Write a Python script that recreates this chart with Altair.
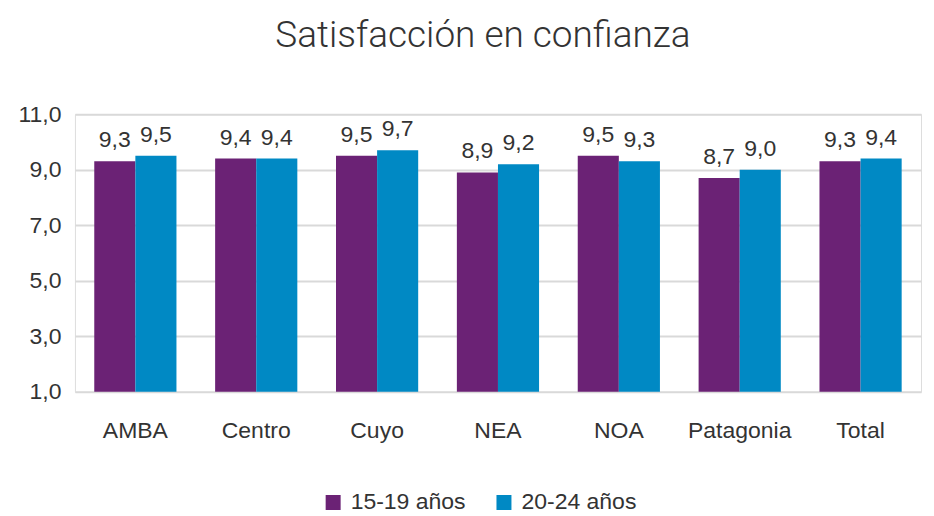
import altair as alt
import pandas as pd

regions = ["AMBA", "Centro", "Cuyo", "NEA", "NOA", "Patagonia", "Total"]
series = ["15-19 años", "20-24 años"]
v1519 = [9.3, 9.4, 9.5, 8.9, 9.5, 8.7, 9.3]
v2024 = [9.5, 9.4, 9.7, 9.2, 9.3, 9.0, 9.4]
colors = ["#6B2275", "#0089C4"]

rows = []
for i, r in enumerate(regions):
    rows.append({"region": r, "serie": series[0], "valor": v1519[i]})
    rows.append({"region": r, "serie": series[1], "valor": v2024[i]})
df = pd.DataFrame(rows)

FONT = "Liberation Sans"
FS = 23

base = alt.Chart(df).encode(
    x=alt.X("region:N", sort=regions, title=None,
            scale=alt.Scale(paddingInner=0.32, paddingOuter=0.16),
            axis=alt.Axis(labelAngle=0, labelFontSize=FS, labelFont=FONT, labelColor="#333333",
                          labelPadding=28, ticks=False, domain=False)),
    xOffset=alt.XOffset("serie:N", sort=series, scale=alt.Scale(paddingInner=0, paddingOuter=0)),
)

bars = base.mark_bar().encode(
    y=alt.Y("valor:Q", title=None,
            scale=alt.Scale(domain=[1, 11], zero=False, nice=False),
            axis=alt.Axis(values=[1, 3, 5, 7, 9, 11],
                          labelExpr="replace(format(datum.value, '.1f'), '.', ',')",
                          labelFontSize=FS, labelFont=FONT, labelColor="#333333",
                          labelPadding=14, ticks=False, domain=False,
                          gridColor="#D9D9D9", gridWidth=2)),
    y2=alt.datum(1),
    color=alt.Color("serie:N", sort=series, title=None,
                    scale=alt.Scale(domain=series, range=colors),
                    legend=alt.Legend(orient="none", direction="horizontal",
                                      legendX=247, legendY=377,
                                      symbolType="square", symbolSize=225,
                                      labelFontSize=FS, labelFont=FONT, labelColor="#333333",
                                      symbolStrokeWidth=0, columnPadding=26,
                                      labelOffset=6)),
)

labels = base.transform_calculate(
    lab="replace(format(datum.valor, '.1f'), '.', ',')"
).mark_text(dy=-14, baseline="alphabetic", fontSize=FS, font=FONT, color="#333333").encode(
    y=alt.Y("valor:Q"),
    text="lab:N",
)

chart = (bars + labels).properties(
    width=847, height=278,
    padding={"left": 9, "top": 9, "right": 5, "bottom": 5},
    title=alt.TitleParams("Satisfacción en confianza", fontSize=37, font="Roboto",
                          fontWeight=300, color="#333333", offset=48, anchor="middle", dx=-15),
).configure_view(stroke=None).configure(background="white")

chart.save("out.html", embed_options={"renderer": "svg", "actions": False})
